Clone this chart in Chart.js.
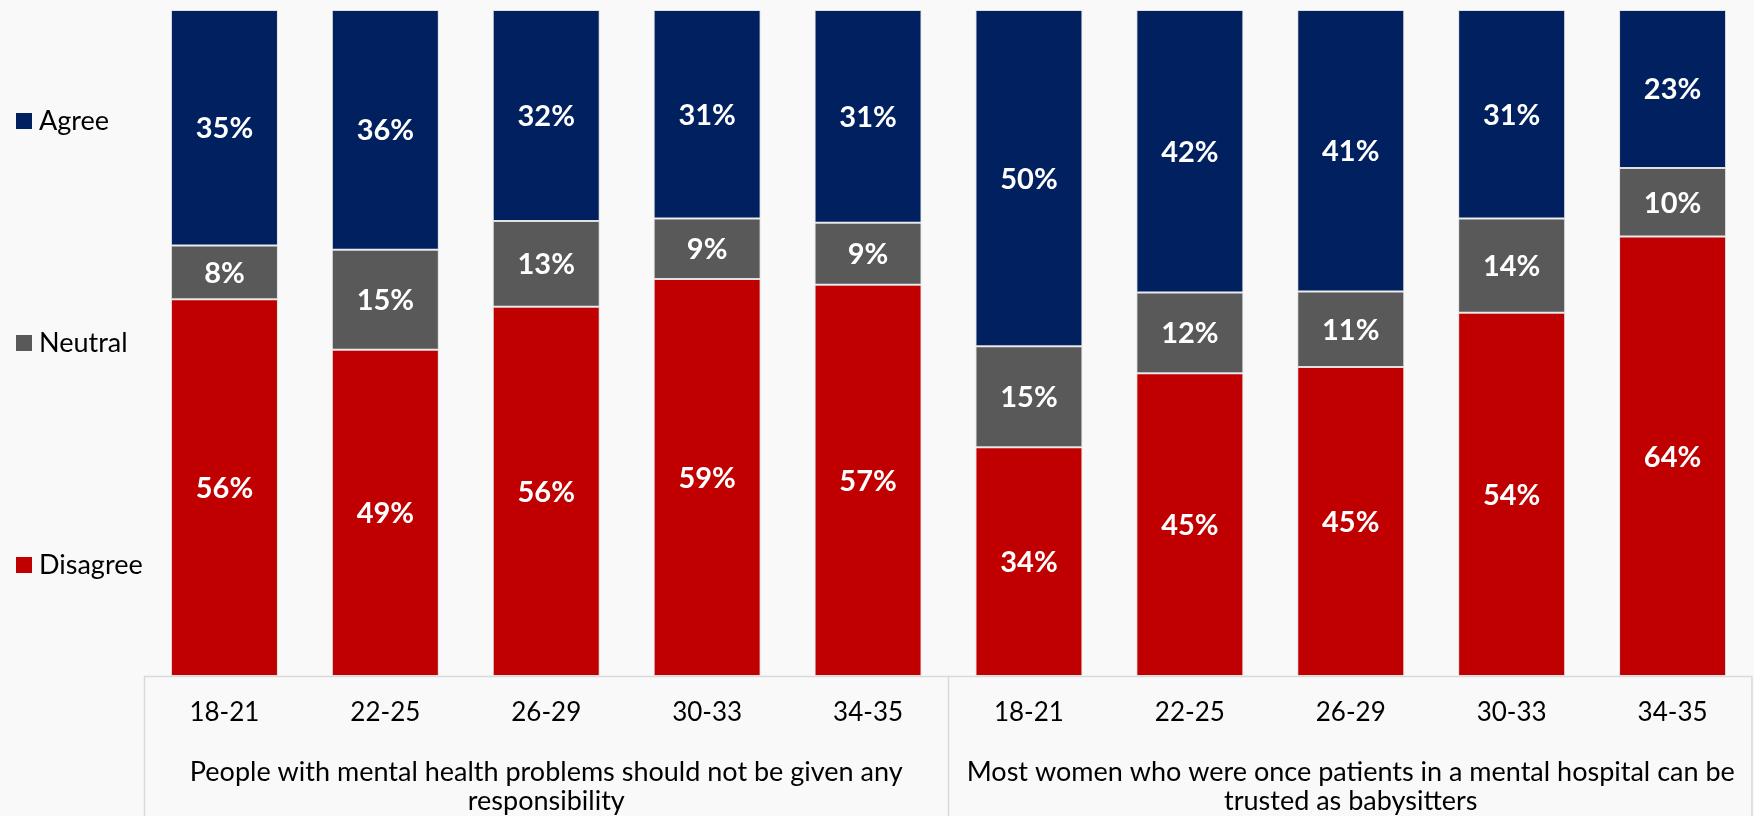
<!DOCTYPE html>
<html>
<head>
<meta charset="utf-8">
<script src="https://cdn.jsdelivr.net/npm/chart.js@4"></script>
<style>
  html, body { margin: 0; padding: 0; background: #F9F9F9; overflow: hidden; }
  #wrap { width: 1754px; height: 816px; position: relative; }
</style>
</head>
<body>
<div id="wrap"><canvas id="chart"></canvas></div>
<script>
// Age bands, repeated for each statement
const ageBands = ['18-21', '22-25', '26-29', '30-33', '34-35',
                  '18-21', '22-25', '26-29', '30-33', '34-35'];

// Statements grouping the age bands
const statements = [
  ['People with mental health problems should not be given any', 'responsibility'],
  ['Most women who were once patients in a mental hospital can be', 'trusted as babysitters']
];

// Survey responses, percent of respondents
const agree    = [35, 36, 32, 31, 31, 50, 42, 41, 31, 23];
const neutral  = [8, 15, 13, 9, 9, 15, 12, 11, 14, 10];
const disagree = [56, 49, 56, 59, 57, 34, 45, 45, 54, 64];

const FONT = 'Lato, "Open Sans", sans-serif';

// Each column is shown as a 100% stack: share of the column total
const totals = ageBands.map((_, i) => agree[i] + neutral[i] + disagree[i]);
const share = arr => arr.map((v, i) => v / totals[i] * 100);

const series = [
  { label: 'Disagree', values: disagree, color: '#C00000' },
  { label: 'Neutral',  values: neutral,  color: '#595959' },
  { label: 'Agree',    values: agree,    color: '#002060' }
];

// Percent labels centred in each segment
const segmentLabels = {
  id: 'segmentLabels',
  afterDatasetsDraw(chart) {
    const ctx = chart.ctx;
    ctx.save();
    ctx.font = 'bold 29px ' + FONT;
    ctx.fillStyle = '#FFFFFF';
    ctx.textAlign = 'center';
    ctx.textBaseline = 'middle';
    chart.data.datasets.forEach((ds, di) => {
      const meta = chart.getDatasetMeta(di);
      meta.data.forEach((el, i) => {
        const p = el.getProps(['x', 'y', 'base'], true);
        ctx.fillText(ds.rawValues[i] + '%', p.x, (p.y + p.base) / 2 + 1);
      });
    });
    ctx.restore();
  }
};

// Boxed two-level category axis: top rule plus dividers between statements
const axisBox = {
  id: 'axisBox',
  afterDraw(chart) {
    const ctx = chart.ctx;
    const x = chart.scales.x;
    const top = chart.chartArea.bottom + 0.5;
    const bottom = chart.height;
    const mid = (x.getPixelForValue(4) + x.getPixelForValue(5)) / 2;
    ctx.save();
    ctx.strokeStyle = '#D9D9D9';
    ctx.lineWidth = 1.5;
    ctx.beginPath();
    ctx.moveTo(x.left, top);
    ctx.lineTo(x.right - 1, top);
    [x.left + 0.5, mid, x.right - 1].forEach(px => {
      ctx.moveTo(px, top);
      ctx.lineTo(px, bottom);
    });
    ctx.stroke();
    ctx.restore();
  }
};

// Vertical key at the left, one entry per third of the plot height
const sideKey = {
  id: 'sideKey',
  afterDraw(chart) {
    const ctx = chart.ctx;
    const area = chart.chartArea;
    const items = chart.data.datasets.slice().reverse();
    const step = (area.bottom - area.top) / items.length;
    ctx.save();
    ctx.font = '27px ' + FONT;
    ctx.textBaseline = 'middle';
    ctx.textAlign = 'left';
    items.forEach((ds, i) => {
      const cy = area.top + (i + 0.5) * step;
      ctx.fillStyle = ds.backgroundColor;
      ctx.fillRect(16, cy - 8, 16, 16);
      ctx.fillStyle = '#000000';
      ctx.fillText(ds.label, 39, cy);
    });
    ctx.restore();
  }
};

new Chart(document.getElementById('chart'), {
  type: 'bar',
  data: {
    labels: ageBands,
    datasets: series.map(s => ({
      label: s.label,
      data: share(s.values),
      rawValues: s.values,
      backgroundColor: s.color,
      borderColor: 'rgba(200,200,200,0.5)',
      borderWidth: 1,
      borderSkipped: false,
      categoryPercentage: 1,
      barPercentage: 0.665
    }))
  },
  options: {
    responsive: true,
    maintainAspectRatio: false,
    animation: false,
    layout: { padding: { top: 10, left: 144, right: 1, bottom: 0 } },
    plugins: {
      legend: { display: false },
      tooltip: { enabled: false }
    },
    scales: {
      x: {
        stacked: true,
        offset: true,
        grid: { display: false, drawTicks: false },
        border: { display: false },
        ticks: {
          color: '#000000',
          font: { family: FONT, size: 26, lineHeight: 1.2 },
          padding: 21.4,
          maxRotation: 0,
          autoSkip: false
        },
        afterFit(scale) { scale.height = 74; }
      },
      x2: {
        type: 'category',
        position: 'bottom',
        labels: statements,
        offset: true,
        grid: { display: false, drawTicks: false },
        border: { display: false },
        ticks: {
          color: '#000000',
          font: { family: FONT, size: 27, lineHeight: 1.074 },
          padding: 7.5,
          maxRotation: 0,
          autoSkip: false
        },
        afterFit(scale) { scale.height = 66; }
      },
      y: {
        stacked: true,
        display: false,
        min: 0,
        max: 100
      }
    }
  },
  plugins: [segmentLabels, axisBox, sideKey]
});
</script>
</body>
</html>
